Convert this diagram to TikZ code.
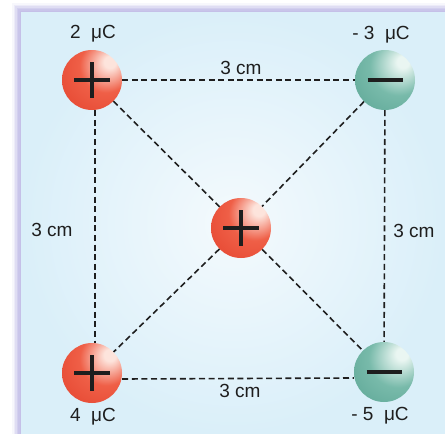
\documentclass[tikz,border=0pt]{standalone}
\usepackage{fontspec}
\setmainfont{Liberation Sans}
\usetikzlibrary{calc}
\definecolor{rhl}{HTML}{FDE4DC}
\definecolor{rmid}{HTML}{EF5F47}
\definecolor{rdeep}{HTML}{E03A25}
\definecolor{thl}{HTML}{EAF6F2}
\definecolor{tmid}{HTML}{78BAAA}
\definecolor{tdeep}{HTML}{4E9C8B}
\definecolor{panel}{HTML}{DAEFF9}
\definecolor{panelin}{HTML}{F4FAFD}
\definecolor{shade1}{HTML}{C4BFE8}
\definecolor{ink}{HTML}{1E1E1E}
\pgfdeclareradialshading{redball}{\pgfpoint{16bp}{16bp}}{color(0bp)=(rhl); color(5bp)=(rhl); color(22bp)=(rmid); color(55bp)=(rdeep); color(80bp)=(rdeep)}
\pgfdeclareradialshading{tealball}{\pgfpoint{16bp}{16bp}}{color(0bp)=(thl); color(5bp)=(thl); color(24bp)=(tmid); color(58bp)=(tdeep); color(80bp)=(tdeep)}
\tikzset{
  charge/.style={circle, minimum size=60pt, inner sep=0pt},
  poscharge/.style={charge, shading=redball},
  negcharge/.style={charge, shading=tealball},
  link/.style={draw=ink, line width=1.6pt, dash pattern=on 6pt off 3.6pt},
  sign/.style={draw=ink, line width=3.6pt},
  lbl/.style={inner sep=0pt, text=ink, font=\fontsize{19}{23}\selectfont}
}
\begin{document}
\begin{tikzpicture}[x=1pt,y=-1pt]
\useasboundingbox (0,0) rectangle (445,434);
\fill[white] (0,0) rectangle (445,434);
% soft shadow
\foreach \d/\o in {9/0.12,7.5/0.2,6/0.3,4.5/0.45,3/0.6,1.5/0.8}{
  \fill[shade1, opacity=\o] (21-\d,12-\d) rectangle (445,434);
}
\shade[inner color=panelin, outer color=panel] (21,12) rectangle (445,434);

% charges
\node[poscharge] (A) at (92,80) {};
\node[negcharge] (B) at (385,80) {};
\node[poscharge] (C) at (241,228) {};
\node[poscharge] (D) at (92,373) {};
\node[negcharge] (E) at (384,372) {};

% connectors
\draw[link] (A) -- (B);
\draw[link] ([yshift=-6pt]D.east) -- ([yshift=-6pt]E.west);
\draw[link] ([xshift=3pt]A.south) -- ([xshift=3pt]D.north);
\draw[link] (B) -- (E);
\draw[link] (A) -- (C);
\draw[link] (C) -- (E);
\draw[link] (B) -- (C);
\draw[link] (C) -- (D);

% signs
\foreach \n in {A,C,D}{
  \draw[sign] ($(\n)+(-18,0)$) -- ($(\n)+(18,0)$);
  \draw[sign] ($(\n)+(0,-18)$) -- ($(\n)+(0,18)$);
}
\foreach \n in {B,E}{
  \draw[sign] ($(\n)+(-17.5,0)$) -- ($(\n)+(17.5,0)$);
}

% labels
\node[lbl] (qA) at (93,34) {2~~μC};
\node[lbl] (qB) at (381,35) {-~3~~μC};
\node[lbl] (qD) at (93,417) {4~~μC};
\node[lbl] (qE) at (380,416) {-~5~~μC};
\node[lbl] (dT) at (241,68) {3 cm};
\node[lbl] (dB) at (240,391) {3 cm};
\node[lbl] (dL) at (52,230) {3 cm};
\node[lbl] (dR) at (414,231) {3 cm};
\end{tikzpicture}
\end{document}
